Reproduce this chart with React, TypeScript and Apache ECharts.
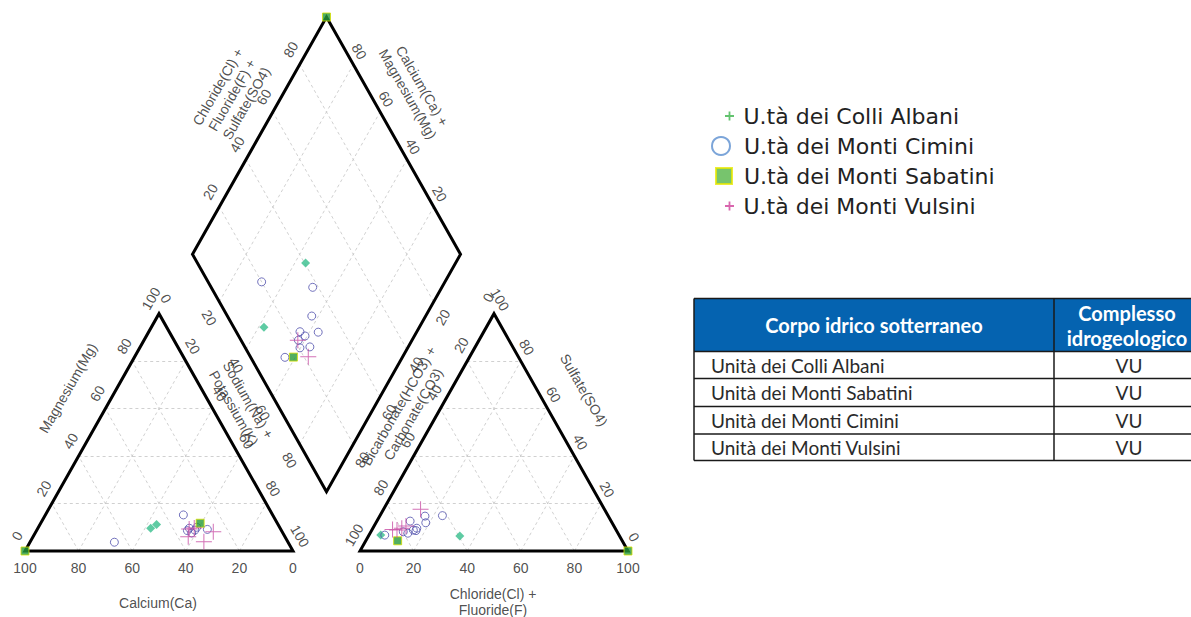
import React, { useEffect, useRef } from 'react';
import * as echarts from 'echarts';

// ---------- data ----------
const seriesNames = [
  'U.tà dei Colli Albani',
  'U.tà dei Monti Cimini',
  'U.tà dei Monti Sabatini',
  'U.tà dei Monti Vulsini',
];

const ticks = [0, 20, 40, 60, 80, 100];
const innerTicks = [20, 40, 60, 80];

// cation triangle: [Calcium %, Magnesium %]
const albaniCation = [[48.3, 9.6], [45.3, 11.2]];
const ciminiCation = [[64.8, 3.7], [33.3, 15.2], [33.9, 9.6], [30.9, 10.0], [27.4, 9.1], [34.0, 7.6], [35.1, 8.6], [32.2, 8.8]];
const sabatiniCation = [[100, 0], [28.8, 11.7]];
const vulsiniCation = [[36.1, 6.0], [31.3, 3.9], [25.7, 8.1], [34.1, 9.3], [32.0, 9.7]];

// anion triangle: [Chloride+Fluoride %, Sulfate %]
const albaniAnion = [[4.4, 6.7], [34.1, 6.3]];
const ciminiAnion = [[5.9, 6.7], [16.9, 14.7], [18.6, 11.9], [23.3, 14.9], [12.4, 12.6], [16.6, 8.6], [14.1, 7.5], [15.5, 8.8], [12.1, 8.1], [16.4, 9.6]];
const sabatiniAnion = [[11.9, 4.3], [100, 0]];
const vulsiniAnion = [[13.8, 17.6], [7.6, 9.1], [10.8, 9.6], [9.4, 8.8], [11.9, 10.5]];

// diamond: [Calcium+Magnesium %, Chloride+Fluoride+Sulfate %]
const albaniDiamond = [[56.0, 40.4], [58.0, 11.3]];
const ciminiDiamond = [[68.4, 20.0], [48.2, 37.9], [42.5, 31.5], [36.7, 30.5], [43.6, 23.8], [40.8, 24.8], [42.4, 21.4], [40.2, 20.4], [36.7, 24.3], [43.8, 12.8]];
const sabatiniDiamond = [[40.7, 16.0], [100, 100]];
const vulsiniDiamond = [[42.6, 21.2], [35.2, 21.6]];

// table
const tableHeader = ['Corpo idrico sotterraneo', 'Complesso\nidrogeologico'];
const tableBodies = ['Unità dei Colli Albani', 'Unità dei Monti Sabatini', 'Unità dei Monti Cimini', 'Unità dei Monti Vulsini'];
const tableComplesso = ['VU', 'VU', 'VU', 'VU'];

// ---------- geometry ----------
const H = Math.sqrt(3) / 2;
const GAP = 25;
const XMAX = 200 + GAP;
const YMAX = GAP * H + 200 * H;
const GRID = { left: 25, top: 17, width: 603, height: 534 };
const SX = GRID.width / XMAX;
const SY = GRID.height / YMAX;

const cation = (ca: number, mg: number) => [100 - ca - mg / 2, mg * H];
const anion = (cl: number, so4: number) => [100 + GAP + cl + so4 / 2, so4 * H];
const diamond = (camg: number, clso4: number) => [100 + GAP / 2 + (clso4 - camg) / 2, GAP * H + (camg + clso4) * H];
const toData = (px: number, py: number) => [(px - GRID.left) / SX, (GRID.top + GRID.height - py) / SY];

const FONT = "'Liberation Sans', Arial, sans-serif";

function lab(p: number[], text: string, rot: number, dx: number, dy: number, size = 14) {
  return {
    value: [p[0] + dx / SX, p[1] - dy / SY],
    label: { show: true, formatter: text, rotate: rot, fontSize: size, lineHeight: 16.5 },
  };
}

function buildOption() {
  // grid lines
  const segs: number[][][] = [];
  innerTicks.forEach((k) => {
    segs.push([cation(100 - k, k), cation(0, k)]);
    segs.push([cation(k, 0), cation(k, 100 - k)]);
    segs.push([cation(100 - k, 0), cation(0, 100 - k)]);
    segs.push([anion(0, k), anion(100 - k, k)]);
    segs.push([anion(k, 0), anion(k, 100 - k)]);
    segs.push([anion(100 - k, 0), anion(0, 100 - k)]);
    segs.push([diamond(k, 0), diamond(k, 100)]);
    segs.push([diamond(0, k), diamond(100, k)]);
  });

  const polys = [
    [cation(100, 0), cation(0, 0), cation(0, 100)],
    [anion(0, 0), anion(100, 0), anion(0, 100)],
    [diamond(0, 0), diamond(100, 0), diamond(100, 100), diamond(0, 100)],
  ];

  const labels: any[] = [];
  ticks.forEach((t) => {
    labels.push(lab(cation(t, 0), String(t), 0, 0, 17));
    labels.push(lab(cation(100 - t, t), String(t), 60, -8, -15));
    labels.push(lab(cation(0, 100 - t), String(t), -60, 7, -15));
    labels.push(lab(anion(t, 0), String(t), 0, 0, 17));
    labels.push(lab(anion(0, 100 - t), String(t), 60, -6, -16));
    labels.push(lab(anion(100 - t, t), String(t), -60, 6, -14));
  });
  innerTicks.forEach((t) => {
    labels.push(lab(diamond(100, t), String(t), 60, -9, -15));
    labels.push(lab(diamond(t, 100), String(t), -60, 6, -13));
    labels.push(lab(diamond(100 - t, 0), String(t), -60, -10, 16));
    labels.push(lab(diamond(0, 100 - t), String(t), 60, 9, 15.5));
  });
  labels.push(lab(toData(68, 388), 'Magnesium(Mg)', 60, 0, 0));
  labels.push(lab(toData(241, 404), 'Sodium(Na) +\nPotassium(K)', -60, 0, 0));
  labels.push(lab(toData(158, 603), 'Calcium(Ca)', 0, 0, 0));
  labels.push(lab(toData(232, 95), 'Chloride(Cl) +\nFluoride(F) +\nSulfate(SO4)', 60, 0, 0));
  labels.push(lab(toData(415, 90), 'Calcium(Ca) +\nMagnesium(Mg)', -60, 0, 0));
  labels.push(lab(toData(406, 410), 'Bicarbonate(HCO3) +\nCarbonate(CO3)', 60, 0, 0));
  labels.push(lab(toData(584, 390), 'Sulfate(SO4)', -60, 0, 0));
  labels.push(lab(toData(493, 602), 'Chloride(Cl) +\nFluoride(F)', 0, 0, 0));

  const pts = (c: number[][], a: number[][], d: number[][]) => [
    ...c.map((v) => cation(v[0], v[1])),
    ...a.map((v) => anion(v[0], v[1])),
    ...d.map((v) => diamond(v[0], v[1])),
  ];

  const bigPlus = 'path://M7.5,0h1v7.5h7.5v1h-7.5v7.5h-1v-7.5h-7.5v-1h7.5z';
  const smallPlus = 'path://M4,0h2v4h4v2h-4v4h-2v-4h-4v-2h4z';
  const squarePath = 'path://M0,0h10v10h-10z';

  const legendBase = (top: number, left: number, w: number, h: number, item: any) => ({
    show: true,
    left,
    top,
    itemWidth: w,
    itemHeight: h,
    itemGap: 0,
    padding: 0,
    selectedMode: false,
    textStyle: { fontSize: 22, lineHeight: 24, fontFamily: "'DejaVu Sans', sans-serif", color: '#222' },
    data: [item],
  });

  // table graphics
  const tL = 694, tR = 1205, tC = 1054;
  const rowY = [298.5, 351.5, 378.5, 406.5, 434, 460.5];
  const g: any[] = [];
  g.push({ type: 'rect', shape: { x: tL, y: rowY[0], width: tR - tL, height: rowY[1] - rowY[0] }, style: { fill: '#0563B0' } });
  rowY.forEach((y) => g.push({ type: 'line', shape: { x1: tL, y1: y, x2: tR, y2: y }, style: { stroke: '#1a1a1a', lineWidth: 1.5 } }));
  g.push({ type: 'line', shape: { x1: tL, y1: rowY[0], x2: tL, y2: rowY[5] }, style: { stroke: '#1a1a1a', lineWidth: 1.5 } });
  g.push({ type: 'line', shape: { x1: tC, y1: rowY[0], x2: tC, y2: rowY[5] }, style: { stroke: '#1a1a1a', lineWidth: 1.5 } });
  const tf = 'Lato, sans-serif';
  g.push({
    type: 'text', x: (tL + tC) / 2, y: (rowY[0] + rowY[1]) / 2,
    style: { text: tableHeader[0], fill: '#fff', fontSize: 20, fontWeight: 'bold', fontFamily: tf, align: 'center', verticalAlign: 'middle', textAlign: 'center', textVerticalAlign: 'middle' },
  });
  g.push({
    type: 'text', x: 1127, y: (rowY[0] + rowY[1]) / 2,
    style: { text: tableHeader[1], fill: '#fff', fontSize: 20, lineHeight: 25, fontWeight: 'bold', fontFamily: tf, align: 'center', verticalAlign: 'middle', textAlign: 'center', textVerticalAlign: 'middle' },
  });
  tableBodies.forEach((b, i) => {
    const cy = (rowY[i + 1] + rowY[i + 2]) / 2;
    g.push({ type: 'text', x: 711, y: cy, style: { text: b, fill: '#2a2a2a', fontSize: 19, fontFamily: tf, align: 'left', verticalAlign: 'middle', textAlign: 'left', textVerticalAlign: 'middle' } });
    g.push({ type: 'text', x: 1129, y: cy, style: { text: tableComplesso[i], fill: '#2a2a2a', fontSize: 19, fontFamily: tf, align: 'center', verticalAlign: 'middle', textAlign: 'center', textVerticalAlign: 'middle' } });
  });

  return {
    animation: false,
    backgroundColor: '#fff',
    grid: { ...GRID, containLabel: false },
    xAxis: { type: 'value', min: 0, max: XMAX, show: false },
    yAxis: { type: 'value', min: 0, max: YMAX, show: false },
    legend: [
      legendBase(104, 725, 18, 9, { name: seriesNames[0], icon: smallPlus, itemStyle: { color: '#3cb44b', borderWidth: 0 } }),
      legendBase(134, 711, 36, 18, { name: seriesNames[1], icon: 'circle', itemStyle: { color: 'transparent', borderColor: '#5b8fd0', borderWidth: 2 } }),
      legendBase(164, 715, 30, 16, { name: seriesNames[2], icon: squarePath, itemStyle: { color: '#55b548', borderColor: '#e8e800', borderWidth: 2 } }),
      legendBase(194, 725, 18, 9, { name: seriesNames[3], icon: smallPlus, itemStyle: { color: '#d0409a', borderWidth: 0 } }),
    ],
    graphic: g,
    series: [
      {
        type: 'lines', coordinateSystem: 'cartesian2d', silent: true, z: 1,
        lineStyle: { color: '#c4c4c4', width: 0.8, type: [3, 3], opacity: 1 },
        data: segs.map((s) => ({ coords: s })),
      },
      {
        type: 'custom', silent: true, z: 2, clip: false,
        data: polys.map((p) => p[0]),
        renderItem: (params: any, api: any) => ({
          type: 'polygon',
          shape: { points: polys[params.dataIndex].map((p) => api.coord(p)) },
          style: { fill: 'none', stroke: '#000', lineWidth: 3, lineJoin: 'miter' },
        }),
      },
      {
        name: seriesNames[0], type: 'scatter', z: 3, clip: false, symbol: 'diamond', symbolSize: 9,
        itemStyle: { color: '#36be8c' },
        data: pts(albaniCation, albaniAnion, albaniDiamond),
      },
      {
        name: seriesNames[1], type: 'scatter', z: 3, clip: false, symbol: 'circle', symbolSize: 8,
        itemStyle: { color: 'transparent', borderColor: '#5050ac', borderWidth: 1 },
        data: pts(ciminiCation, ciminiAnion, ciminiDiamond),
      },
      {
        name: seriesNames[2], type: 'scatter', z: 3, clip: false, symbol: 'rect', symbolSize: 8,
        itemStyle: { color: '#259a3a', borderColor: '#d8e000', borderWidth: 1 },
        data: pts(sabatiniCation, sabatiniAnion, sabatiniDiamond),
      },
      {
        name: seriesNames[3], type: 'scatter', z: 3, clip: false, symbol: bigPlus, symbolSize: 16,
        itemStyle: { color: '#c84ea4' },
        data: pts(vulsiniCation, vulsiniAnion, vulsiniDiamond),
      },
      {
        type: 'scatter', z: 4, clip: false, silent: true, symbolSize: 0,
        label: { show: true, position: 'inside', color: '#222', fontFamily: FONT, fontSize: 14, align: 'center', verticalAlign: 'middle' },
        data: labels,
      },
    ],
  };
}

export default function App() {
  const ref = useRef<HTMLDivElement>(null);
  useEffect(() => {
    const chart = echarts.init(ref.current as HTMLDivElement, undefined, { renderer: 'svg' });
    chart.setOption(buildOption() as any);
    return () => chart.dispose();
  }, []);
  return (
    <div
      ref={ref}
      style={{ position: 'absolute', left: 0, top: 0, width: 1191, height: 617, background: '#fff' }}
    />
  );
}
